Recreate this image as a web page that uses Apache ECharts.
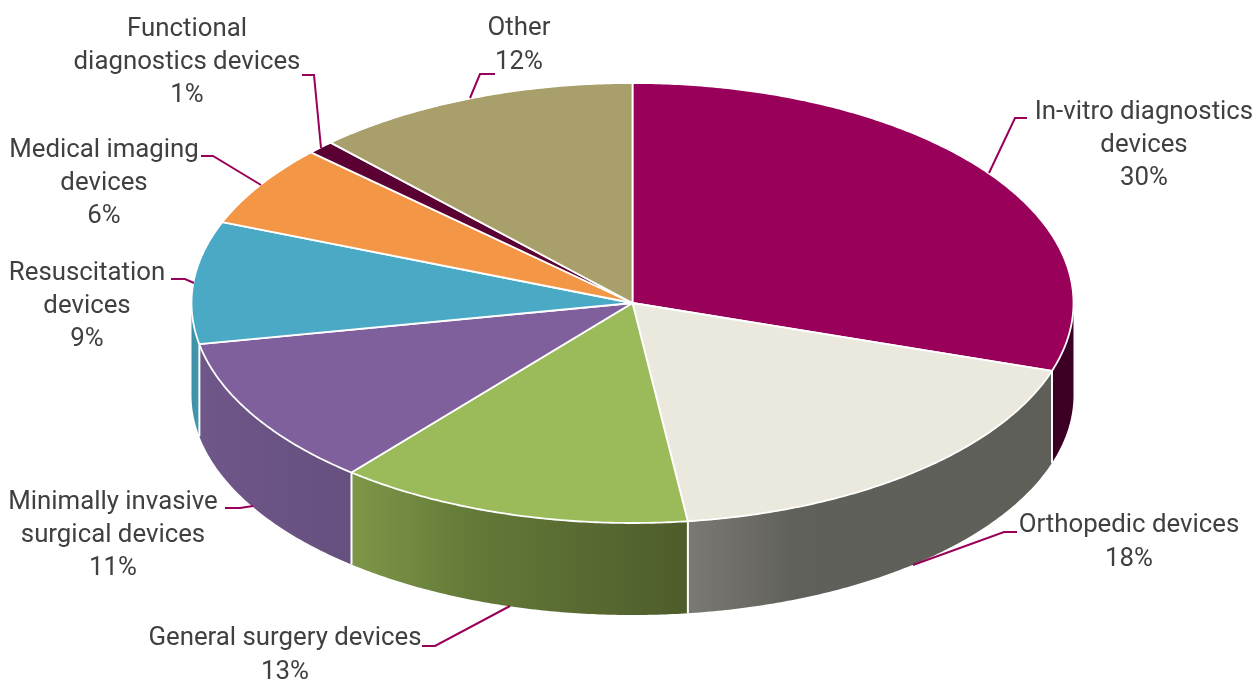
<!DOCTYPE html>
<html>
<head>
<meta charset="utf-8">
<style>html,body{margin:0;padding:0;background:#fff}#c{width:1258px;height:680px}</style>
<script src="https://cdn.jsdelivr.net/npm/echarts@6/dist/echarts.min.js"></script>
</head>
<body>
<div id="c"></div>
<script>
const categories = [
  'In-vitro diagnostics\ndevices',
  'Orthopedic devices',
  'General surgery devices',
  'Minimally invasive\nsurgical devices',
  'Resuscitation\ndevices',
  'Medical imaging\ndevices',
  'Functional\ndiagnostics devices',
  'Other'
];
const shares = [30, 18, 13, 11, 9, 6, 1, 12];

const topColors = ['#990059', '#ebe9de', '#9bba5a', '#7f609d', '#4aa9c5', '#f39645', '#5a0033', '#a89f6b'];
const wallStops = [
  [[0, '#3d0025'], [1, '#3d0025']],
  [[0, '#7b7973'], [0.3, '#60605a'], [1, '#5e5f58']],
  [[0, '#7d9748'], [0.35, '#647a38'], [1, '#4e5c2b']],
  [[0, '#6f5789'], [1, '#65507f']],
  [[0, '#3f8fa6'], [1, '#4398ae']],
  [[0, '#b5702f'], [1, '#b5702f']],
  [[0, '#3d0025'], [1, '#3d0025']],
  [[0, '#7d7750'], [1, '#7d7750']]
];
const labelCentres = [[1144, 145.5], [1129, 542.5], [285, 655.5], [113, 535.5], [87, 306.5], [104, 183.5], [187, 62.5], [519, 45.5]];
const leaderPaths = [
  [[1027, 118], [1015, 118], [989, 173]],
  [[1017, 532], [1004, 532], [913, 565]],
  [[422, 646], [435, 646], [510, 606]],
  [[225, 508], [240, 508], [253, 506]],
  [[171, 279], [185, 279], [194, 283]],
  [[201, 156], [213, 156], [261, 185]],
  [[302, 75], [314, 75], [321, 148]],
  [[495, 74], [480, 74], [470, 98]]
];
const pieGeometry = { cx: 632.5, cy: 303, rx: 441, ry: 220, depth: 92 };
const total = shares.reduce((a, b) => a + b, 0);

function rim(deg, drop) {
  const r = deg * Math.PI / 180;
  return [pieGeometry.cx + pieGeometry.rx * Math.sin(r),
          pieGeometry.cy - pieGeometry.ry * Math.cos(r) + (drop || 0)];
}
function arc(a, b, drop) {
  const pts = [], n = Math.max(2, Math.ceil(Math.abs(b - a) / 0.5));
  for (let i = 0; i <= n; i++) pts.push(rim(a + (b - a) * i / n, drop));
  return pts;
}
function renderItem(params, api) {
  const i = params.dataIndex, val = api.value(0);
  let before = 0;
  for (let k = 0; k < i; k++) before += shares[k];
  const start = before / total * 360, end = (before + val) / total * 360;
  const children = [];
  const ws = Math.max(start, 90), we = Math.min(end, 270);
  if (we > ws) {
    const pts = arc(ws, we, 0).concat(arc(we, ws, pieGeometry.depth));
    children.push({
      type: 'polygon', shape: { points: pts },
      style: {
        fill: { type: 'linear', x: 0, y: 0, x2: 1, y2: 0, global: false,
          colorStops: wallStops[i].map(s => ({ offset: s[0], color: s[1] })) },
        stroke: null
      }
    });
    [ws, we].forEach(a => {
      if (a === 90 || a === 270) return;
      const p = rim(a);
      children.push({ type: 'line',
        shape: { x1: p[0], y1: p[1], x2: p[0], y2: p[1] + pieGeometry.depth },
        style: { stroke: '#ffffff', lineWidth: 1.8 } });
    });
  }
  const top = [[pieGeometry.cx, pieGeometry.cy]].concat(arc(start, end, 0));
  children.push({ type: 'polygon', shape: { points: top },
    style: { fill: topColors[i], stroke: '#ffffff', lineWidth: 1.8, lineJoin: 'round' } });
  children.push({ type: 'polyline', shape: { points: leaderPaths[i] },
    style: { stroke: '#990059', lineWidth: 2, fill: null } });
  children.push({ type: 'text',
    style: { x: labelCentres[i][0], y: labelCentres[i][1],
      text: categories[i] + '\n' + val + '%',
      fill: '#404040', font: '400 25.8px Roboto', lineHeight: 33.4,
      align: 'center', verticalAlign: 'middle' } });
  return { type: 'group', children };
}
const chart = echarts.init(document.getElementById('c'), null, { renderer: 'canvas' });
chart.setOption({
  animation: false,
  backgroundColor: '#ffffff',
  series: [{
    type: 'custom',
    coordinateSystem: 'none',
    renderItem,
    silent: true,
    data: shares.map(v => [v])
  }]
});
</script>
</body>
</html>
